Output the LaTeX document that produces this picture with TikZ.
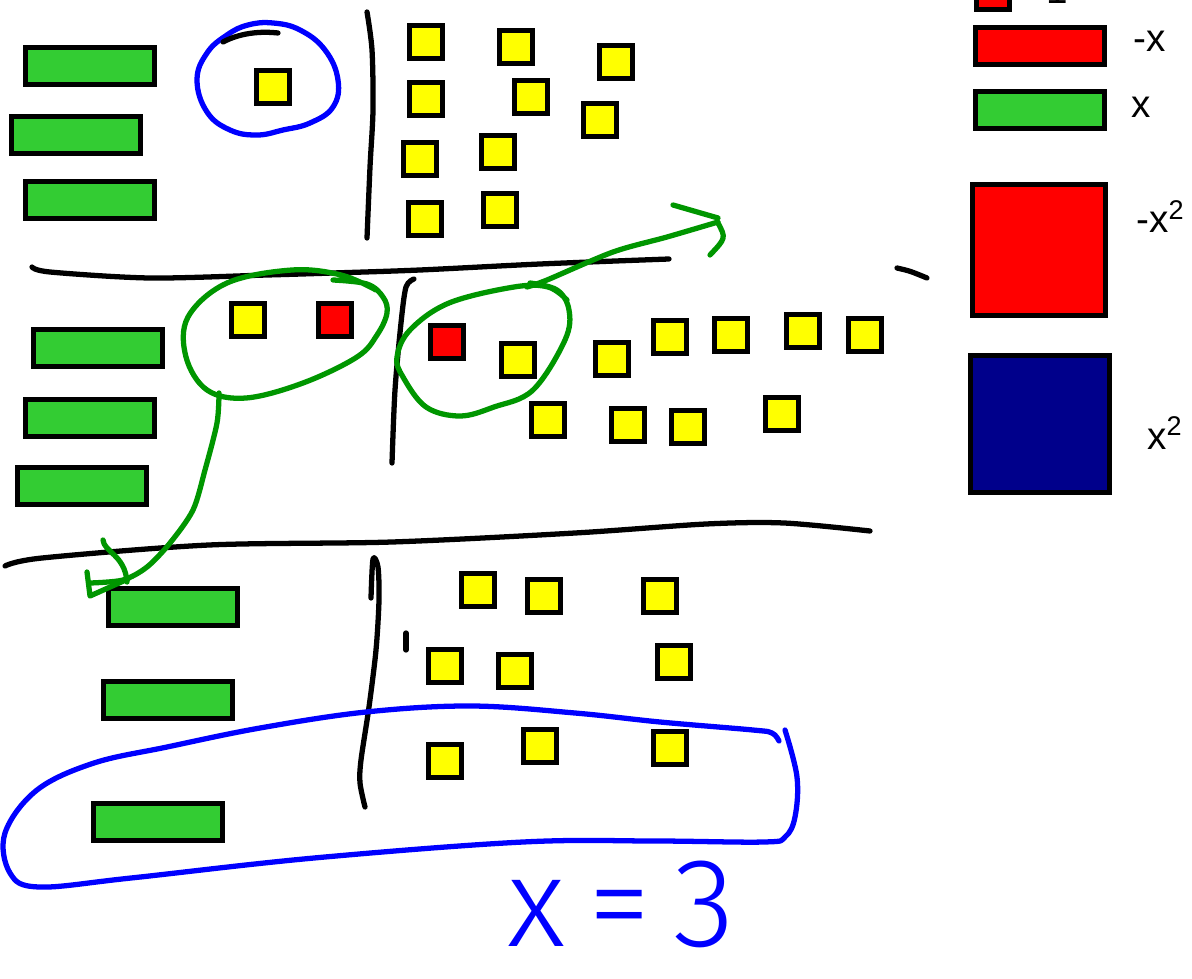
\documentclass[tikz,border=0pt]{standalone}
\usepackage{fontspec}
\usepackage{tikz}
\usetikzlibrary{positioning}
\newfontfamily\legendfont{Liberation Sans}
\newfontfamily\handfont{Fira Sans Light}
\definecolor{tilegreen}{RGB}{51,204,51}
\definecolor{tileyellow}{RGB}{255,255,0}
\definecolor{tilered}{RGB}{255,0,0}
\definecolor{tileblue}{RGB}{0,0,139}
\definecolor{penblue}{RGB}{0,0,255}
\definecolor{pengreen}{RGB}{0,150,0}

\begin{document}
\begin{tikzpicture}[
    x=0.02cm, y=-0.02cm,
    unit/.style={draw, line width=2.6pt, fill=tileyellow, minimum size=0.65cm, inner sep=0pt},
    negunit/.style={unit, fill=tilered},
    xbar/.style={draw, line width=2.6pt, fill=tilegreen, minimum width=2.59cm,
                 minimum height=0.73cm, inner sep=0pt},
    negxbar/.style={xbar, fill=tilered},
    sqbox/.style={draw, line width=3pt, inner sep=0pt},
    ink/.style={line width=3pt, line cap=round, line join=round},
    lbl/.style={font=\legendfont\fontsize{22}{26}\selectfont, anchor=base west, inner sep=0pt},
]
  \useasboundingbox (0,0) rectangle (1192,979);

  % top row
  \node[xbar] (g1) at (90,66) {};
  \node[xbar] (g2) at (76,135) {};
  \node[xbar] (g3) at (90,200) {};
  \node[unit] (c1) at (273,87) {};
  \node[unit] (t1) at (426,42) {};
  \node[unit] (t2) at (516,47) {};
  \node[unit] (t3) at (616,62) {};
  \node[unit] (t4) at (426,99) {};
  \node[unit] (t5) at (531,97) {};
  \node[unit] (t6) at (600,120) {};
  \node[unit] (t7) at (420,159) {};
  \node[unit] (t8) at (498,152) {};
  \node[unit] (t9) at (425,219) {};
  \node[unit] (t10) at (500,210) {};

  % middle row
  \node[xbar] (g4) at (98,348) {};
  \node[xbar] (g5) at (90,418) {};
  \node[xbar] (g6) at (82,486) {};
  \node[unit] (m1) at (248,320) {};
  \node[negunit] (m2) at (335,320) {};
  \node[negunit] (m3) at (447,342) {};
  \node[unit] (m4) at (518,360) {};
  \node[unit] (m5) at (612,359) {};
  \node[unit] (m6) at (670,337) {};
  \node[unit] (m7) at (731,335) {};
  \node[unit] (m8) at (803,331) {};
  \node[unit] (m9) at (865,335) {};
  \node[unit] (m10) at (548,420) {};
  \node[unit] (m11) at (628,425) {};
  \node[unit] (m12) at (688,427) {};
  \node[unit] (m13) at (782,414) {};

  % bottom row
  \node[xbar] (g7) at (173,607) {};
  \node[xbar] (g8) at (168,700) {};
  \node[xbar] (g9) at (158,822) {};
  \node[unit] (b1) at (478,590) {};
  \node[unit] (b2) at (544,596) {};
  \node[unit] (b3) at (660,596) {};
  \node[unit] (b4) at (445,666) {};
  \node[unit] (b5) at (515,671) {};
  \node[unit] (b6) at (674,662) {};
  \node[unit] (b7) at (445,761) {};
  \node[unit] (b8) at (540,746) {};
  \node[unit] (b9) at (670,748) {};

  % legend
  \node[negunit] (kone) at (993,-7) {};
  \node[lbl] (lone) at (1033,4) {-1};
  \node[negxbar] (knegx) at (1040,46) {};
  \node[lbl] (lnegx) at (1133,52) {-x};
  \node[xbar] (kx) at (1040,110) {};
  \node[lbl] (lx) at (1131,118) {x};
  \node[sqbox, fill=tilered, minimum width=2.65cm, minimum height=2.61cm] (knegsq) at (1039,250) {};
  \node[lbl] (lnegsq) at (1136,233) {-x\textsuperscript{2}};
  \node[sqbox, fill=tileblue, minimum width=2.77cm, minimum height=2.73cm] (ksq) at (1040,424) {};
  \node[lbl] (lsq) at (1147,449) {x\textsuperscript{2}};

  % dividers
  \draw[ink] plot[smooth] coordinates {(367,12) (372,50) (373,110) (370,167) (367,238)};
  \draw[ink] plot[smooth] coordinates {(32,267) (50,272) (150,278) (267,275) (333,273) (420,270) (540,264) (669,259)};
  \draw[ink] plot[smooth] coordinates {(414,279) (406,287) (401,323) (395,390) (392,463)};
  \draw[ink] plot[smooth] coordinates {(5,566) (42,558) (209,545) (392,542) (575,533) (706,524) (784,523) (870,531)};
  \draw[ink] (897,268) .. controls (910,271) .. (927,278);
  \draw[ink] plot[smooth] coordinates {(371,598) (373,559) (378,567) (379,600) (376,650) (369,707) (361,760) (360,783) (365,807)};
  \draw[ink] (406,633) -- (406,650);

  % circled unit
  \draw[ink, penblue] plot[smooth cycle, tension=0.7] coordinates {(248,25) (273,23) (300,30) (325,50) (338,80) (333,107) (310,123) (283,130) (257,135) (230,130) (207,112) (197,80) (207,53) (227,35)};
  \draw[ink] (223,42) .. controls (240,33) and (260,31) .. (278,33);

  % zero pairs
  \draw[ink, pengreen] plot[smooth, tension=0.6] coordinates {(333,280) (367,284) (383,297) (387,313) (377,335) (357,357) (303,383) (246,398) (207,390) (186,357) (188,317) (227,283) (292,270) (341,275) (376,290)};
  \coordinate (tail1) at (219,393);
  \coordinate (tip1) at (90,583);
  \draw[ink, pengreen] plot[smooth] coordinates {(tail1) (217,423) (205,470) (193,510) (170,543) (147,567) (123,580) (tip1)};
  \draw[ink, pengreen] (87,572) -- (90,596) -- (128,579);
  \draw[ink, pengreen] (103,540) .. controls (104,552) and (125,555) .. (127,582);

  \draw[ink, pengreen] plot[smooth, tension=0.6] coordinates {(530,283) (557,290) (569,310) (565,340) (533,390) (494,407) (460,416) (426,407) (403,377) (397,357) (410,330) (449,303) (514,287) (548,287) (567,300)};
  \coordinate (tail2) at (527,287);
  \coordinate (tip2) at (718,222);
  \draw[ink, pengreen] plot[smooth] coordinates {(tail2) (547,280) (613,252) (667,237) (tip2)};
  \draw[ink, pengreen] (673,205) -- (718,218);
  \draw[ink, pengreen] (718,223) .. controls (726,238) .. (710,255);

  % solution
  \draw[ink, penblue] plot[smooth, tension=0.6] coordinates {(779,741) (772,733) (753,730) (660,722) (575,713) (471,706) (366,712) (260,728) (167,747) (94,763) (37,790) (5,833) (10,873) (39,887) (131,878) (314,858) (523,842) (654,841) (764,842) (785,837) (795,817) (797,777) (785,730)};
  \node[anchor=base west, inner sep=0pt, text=penblue, font=\handfont\fontsize{72}{76}\selectfont] (sol) at (507,946) {x{\kern0.18em}={\kern0.18em}3};
\end{tikzpicture}
\end{document}
